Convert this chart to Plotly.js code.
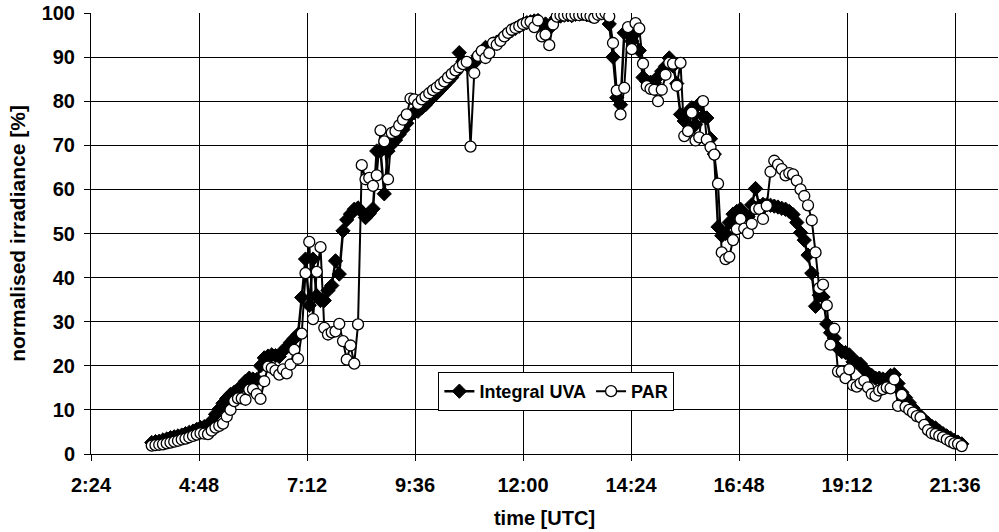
<!DOCTYPE html>
<html>
<head>
<meta charset="utf-8">
<script src="https://cdn.plot.ly/plotly-3.0.1.min.js"></script>
<style>html,body{margin:0;padding:0;background:#fff;}#chart{width:999px;height:532px;}</style>
</head>
<body>
<div id="chart"></div>
<script>
// time of each sample, minutes after midnight (UTC)
const timeMin = [
  225,230,235,
  240,245,250,255,260,265,270,275,280,285,290,295,
  300,305,310,315,320,325,330,335,340,345,350,355,
  360,365,370,375,380,385,390,395,400,405,410,415,
  420,425,430,435,440,445,450,455,460,465,470,475,
  480,485,490,495,500,505,510,515,520,525,530,535,
  540,545,550,555,560,565,570,575,580,585,590,595,
  600,605,610,615,620,625,630,635,640,645,650,655,
  660,665,670,675,680,685,690,695,700,705,710,715,
  720,725,730,735,740,745,750,755,760,765,770,775,
  780,785,790,795,800,805,810,815,820,825,830,835,
  840,845,850,855,860,865,870,875,880,885,890,895,
  900,905,910,915,920,925,930,935,940,945,950,955,
  960,965,970,975,980,985,990,995,1000,1005,1010,1015,
  1020,1025,1030,1035,1040,1045,1050,1055,1060,1065,1070,1075,
  1080,1085,1090,1095,1100,1105,1110,1115,1120,1125,1130,1135,
  1140,1145,1150,1155,1160,1165,1170,1175,1180,1185,1190,1195,
  1200,1205,1210,1215,1220,1225,1230,1235,1240,1245,1250,1255,
  1260,1265,1270,1275,1280,1285,1290,1295,1300,1305
];
const integralUVA = [
  2.6,2.8,2.9,
  3.2,3.4,3.7,3.9,4.1,4.3,4.6,4.9,5.2,5.6,6.0,6.2,
  6.5,7.5,9.0,10.2,11.5,12.6,13.5,14.0,14.5,15.5,16.5,17.2,
  17.0,16.9,20.0,21.8,22.2,22.5,22.3,22.1,23.4,24.2,25.3,26.2,
  27.1,35.5,44.2,33.7,44.2,35.9,34.8,34.8,37.1,38.2,43.8,40.8,
  50.6,53.1,54.4,55.5,55.8,54.9,53.6,54.5,55.6,68.7,68.7,59.0,
  68.7,70.2,71.2,72.5,73.6,75.0,76.8,77.4,77.7,78.5,79.2,80.2,
  81.0,81.8,82.7,83.6,84.5,85.4,86.5,91.0,89.0,88.3,88.0,88.7,
  90.3,91.2,92.2,92.0,93.0,93.4,94.0,94.8,95.4,96.0,96.5,97.0,
  97.4,97.8,98.0,98.2,98.3,97.3,97.5,96.5,98.0,99.0,99.3,99.5,
  99.6,99.4,99.7,99.8,99.9,99.6,99.4,99.5,99.8,100.0,99.8,97.5,
  90.0,80.8,79.2,95.5,95.5,93.6,95.5,91.5,85.4,84.5,84.3,84.2,
  85.5,86.8,87.9,89.8,88.0,84.0,77.0,75.5,77.5,78.5,74.7,79.4,
  76.6,76.2,71.5,68.0,51.5,49.5,50.0,52.5,54.4,55.0,55.5,54.4,
  53.8,56.5,60.2,56.2,56.6,56.5,56.4,56.2,56.0,55.7,55.5,55.0,
  54.3,52.5,50.2,48.5,45.1,41.0,33.5,36.0,35.6,29.5,27.5,26.3,
  24.0,23.2,23.0,22.5,20.9,20.8,20.4,19.1,18.4,17.8,17.2,17.2,
  17.0,16.8,17.8,18.0,16.0,14.0,12.8,11.6,10.4,9.3,8.6,7.5,
  7.0,6.3,5.9,5.2,4.6,4.1,3.6,3.1,2.7,2.3
];
const par = [
  1.9,2.0,2.1,
  2.2,2.4,2.6,2.8,3.0,3.3,3.5,3.8,4.1,4.4,4.7,4.6,
  4.5,5.3,6.0,6.4,6.9,8.5,10.0,12.0,12.6,12.6,12.3,14.6,
  14.7,13.6,12.5,16.5,19.8,19.5,18.9,18.0,19.2,18.3,20.3,23.6,
  21.6,27.3,41.0,48.1,30.6,41.3,46.9,28.6,27.1,27.6,27.8,29.5,
  25.6,21.4,24.6,20.5,29.4,65.5,62.3,62.6,60.8,63.2,73.4,70.9,
  62.3,72.8,73.2,74.5,75.8,77.0,80.6,80.4,79.4,80.4,81.1,81.8,
  82.5,83.1,83.8,84.5,85.4,86.2,87.0,87.7,88.4,88.9,69.7,86.4,
  90.3,91.4,89.8,90.9,93.2,92.8,93.7,94.7,95.5,96.2,96.6,97.0,
  97.5,97.8,98.0,96.8,98.3,94.7,95.1,92.7,97.4,99.2,99.5,99.4,
  99.6,99.4,99.6,99.5,99.7,99.5,99.3,98.9,99.6,99.8,100.0,99.2,
  93.2,82.4,77.0,83.0,96.8,91.8,97.7,96.5,88.5,83.4,82.8,82.6,
  80.0,82.6,86.0,88.7,88.5,83.5,88.7,72.1,73.2,77.4,71.1,71.8,
  80.0,71.3,69.6,67.9,61.3,45.7,44.2,44.7,48.5,51.0,53.3,51.1,
  50.1,52.2,55.6,55.6,53.3,56.3,64.0,66.5,65.6,64.6,63.2,63.7,
  63.4,62.0,60.0,58.5,56.4,53.0,45.7,37.6,38.4,33.7,24.8,28.4,
  18.7,18.7,17.2,19.2,15.6,15.3,16.0,16.6,15.1,13.6,13.2,14.4,
  14.7,15.1,14.9,16.9,10.9,13.4,10.7,10.0,9.4,8.6,8.3,6.6,
  5.4,4.7,4.5,4.1,3.8,3.3,2.8,2.4,2.3,1.8
];
const xTickLabels = ["2:24","4:48","7:12","9:36","12:00","14:24","16:48","19:12","21:36"];
const yTickValues = [0,10,20,30,40,50,60,70,80,90,100];
const seriesNames = ["Integral UVA","PAR"];
const axisTitles = {x: "time [UTC]", y: "normalised irradiance [%]"};

function toMinutes(s){ const p = s.split(":"); return (+p[0])*60 + (+p[1]); }
const xTickVals = xTickLabels.map(toMinutes);

const FONT = "'Liberation Sans', Arial, sans-serif";

const traces = [
  {
    x: timeMin, y: integralUVA, name: seriesNames[0], type: "scatter", mode: "lines+markers",
    line: {color: "#000", width: 2.5},
    marker: {symbol: "diamond", size: 11, color: "#000", line: {color: "#000", width: 1}}
  },
  {
    x: timeMin, y: par, name: seriesNames[1], type: "scatter", mode: "lines+markers",
    line: {color: "#000", width: 2},
    marker: {symbol: "circle", size: 11, color: "#fff", line: {color: "#000", width: 1.3}}
  }
];

const layout = {
  width: 999, height: 532,
  margin: {l: 91, r: 1, t: 13, b: 78},
  paper_bgcolor: "#fff", plot_bgcolor: "#fff",
  font: {family: FONT, color: "#000", size: 18},
  showlegend: true,
  legend: {
    orientation: "h", x: 0.383, y: 0.186, xanchor: "left", yanchor: "top",
    bgcolor: "#fff", bordercolor: "#000", borderwidth: 1,
    font: {family: FONT, size: 18, color: "#000", weight: "bold"},
    itemwidth: 30, tracegroupgap: 0
  },
  xaxis: {
    range: [144, 1353.3], tickmode: "array", tickvals: xTickVals, ticktext: xTickLabels,
    showgrid: true, gridcolor: "#000", gridwidth: 1,
    showline: true, linecolor: "#000", linewidth: 1,
    ticks: "outside", ticklen: 6, tickcolor: "#000", tickwidth: 1,
    tickfont: {family: FONT, size: 20, color: "#000", weight: "bold"},
    ticklabelstandoff: 7,
    zeroline: false,
    title: {text: axisTitles.x, font: {family: FONT, size: 20, color: "#000", weight: "bold"}, standoff: 15}
  },
  yaxis: {
    range: [0, 100], tickmode: "array", tickvals: yTickValues,
    showgrid: true, gridcolor: "#000", gridwidth: 1,
    showline: true, linecolor: "#000", linewidth: 1,
    ticks: "outside", ticklen: 6, tickcolor: "#000", tickwidth: 1,
    tickfont: {family: FONT, size: 20, color: "#000", weight: "bold"},
    ticklabelstandoff: 5,
    zeroline: false,
    title: {text: axisTitles.y, font: {family: FONT, size: 21, color: "#000", weight: "bold"}, standoff: 10}
  }
};

Plotly.newPlot("chart", traces, layout, {displayModeBar: false, staticPlot: true});
</script>
</body>
</html>
